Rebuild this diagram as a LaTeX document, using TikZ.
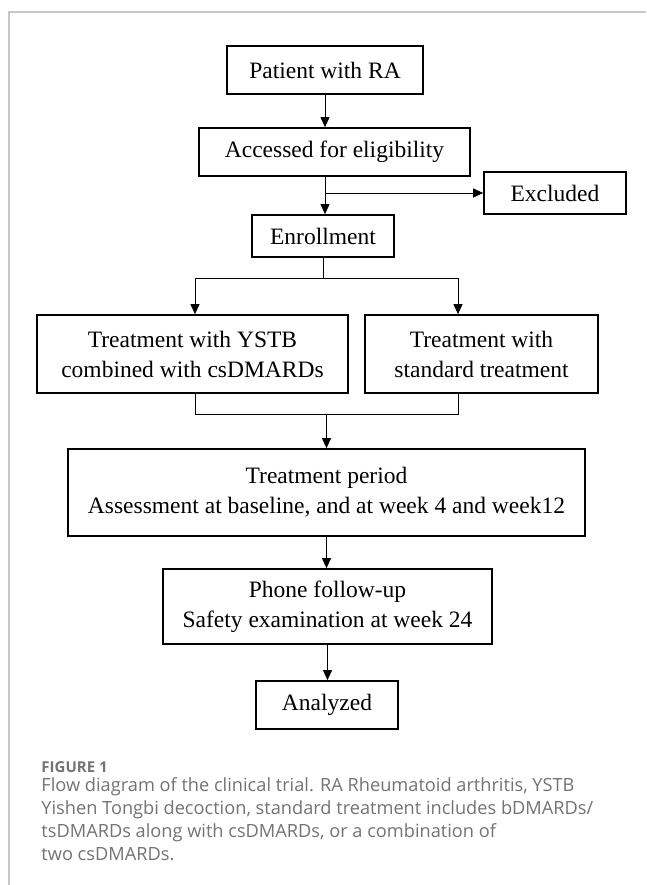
\documentclass[tikz,border=0pt]{standalone}
\usepackage{fontspec}
\setmainfont{Liberation Serif}
\newfontfamily\capfont{Open Sans}
\usetikzlibrary{arrows.meta, positioning}

\begin{document}
\begin{tikzpicture}[x=1pt,y=-1pt,->,>={Triangle[length=10pt,width=9pt]},line width=0.9pt]

	\tikzset{box/.style={draw, -, line width=1.7pt, inner sep=0pt, align=center,
			font=\fontsize{23.5}{30}\selectfont}}
	\tikzset{captext/.style={anchor=base west, align=left, inner sep=0pt,
			text=black!55, font=\capfont\fontsize{18.2}{22.7}\selectfont}}

	\useasboundingbox (0,0) rectangle (646,885);
	% page frame
	\draw[-, black!22, line width=1.6pt] (9,885) -- (9,12) -- (646,12);

	\node[box, minimum width=196pt, minimum height=48pt] (pat) at (325,70) {Patient with RA};
	\node[box, minimum width=271pt, minimum height=48pt] (acc) at (334.5,152) {Accessed for eligibility};
	\node[box, minimum width=142pt, minimum height=42pt] (exc) at (555,193) {Excluded};
	\node[box, minimum width=142pt, minimum height=42pt] (enr) at (323,236) {Enrollment};
	\node[box, minimum width=311pt, minimum height=78pt] (ysb) at (192.5,354) {Treatment with YSTB\\combined with csDMARDs};
	\node[box, minimum width=233pt, minimum height=78pt] (std) at (481.5,354) {Treatment with\\standard treatment};
	\node[box, minimum width=517pt, minimum height=87pt] (per) at (326.5,492.5) {Treatment period\\Assessment at baseline, and at week 4 and week12};
	\node[box, minimum width=329pt, minimum height=75pt] (pho) at (327.5,606.5) {Phone follow-up\\Safety examination at week 24};
	\node[box, minimum width=142pt, minimum height=48pt] (ana) at (327,705) {Analyzed};

	\coordinate (br) at (pat.south |- exc.west);
	\coordinate (sl) at (195,278);
	\coordinate (sr) at (458,278);
	\coordinate (jl) at (195,414);
	\coordinate (jr) at (458,414);

	\draw (pat.south) -- (pat.south |- acc.north);
	\draw[-] (pat.south |- acc.south) -- (br);
	\draw (br) -- (pat.south |- enr.north);
	\draw (br) -- (exc.west);
	\draw[-] (enr.south) -- (enr.south |- sl);
	\draw[-] (sl) -- (sr);
	\draw (sl) -- (sl |- ysb.north);
	\draw (sr) -- (sr |- std.north);
	\draw[-] (jl |- ysb.south) -- (jl) -- (jr) -- (jr |- std.south);
	\draw (per.north |- jl) -- (per.north);
	\draw (per.south) -- (per.south |- pho.north);
	\draw (pho.south) -- (pho.south |- ana.north);

	% caption
	\node[captext, text=black!55, font=\capfont\bfseries\fontsize{15}{17}\selectfont] (fig) at (41,772) {FIGURE 1};
	\node[captext] (caption) at (41,860) {Flow diagram of the clinical trial. RA Rheumatoid arthritis, YSTB\\
		Yishen Tongbi decoction, standard treatment includes bDMARDs/\\
		tsDMARDs along with csDMARDs, or a combination of\\
		two csDMARDs.};
\end{tikzpicture}
\end{document}
